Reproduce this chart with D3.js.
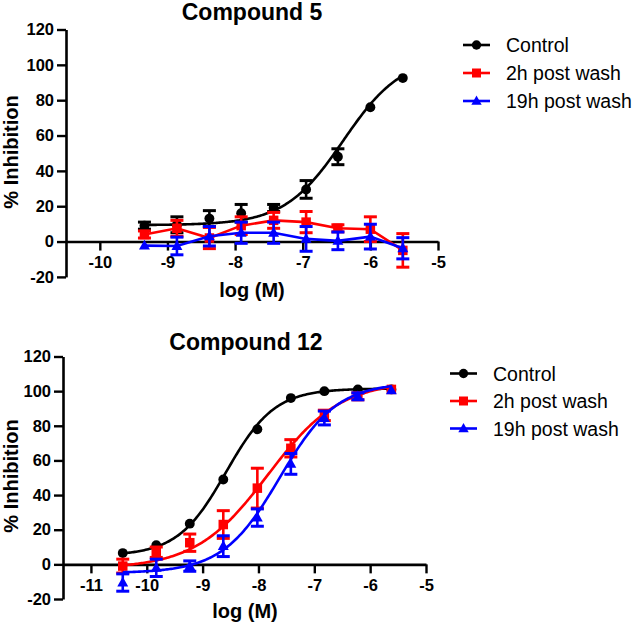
<!DOCTYPE html>
<html>
<head>
<meta charset="utf-8">
<script src="https://cdn.jsdelivr.net/npm/d3@7"></script>
<style>
  html, body { margin: 0; padding: 0; background: #fff; }
  svg { display: block; }
  text { font-family: "Liberation Sans", Arial, Helvetica, sans-serif; }
</style>
</head>
<body>
<svg id="chart" width="633" height="623"></svg>
<script>
// ---------- DATA ----------
const seriesNames = ["Control", "2h post wash", "19h post wash"];
const seriesColors = ["#000000", "#ff0000", "#0000ff"];
const seriesShapes = ["circle", "square", "triangle"];

// Compound 5 (top panel)
const c5Titles = ["Compound 5"];
const c5LogM = [-9.34, -8.86, -8.38, -7.91, -7.43, -6.95, -6.48, -6.0, -5.52];
const c5Control = [9, 9.5, 13, 16, 19, 29.5, 48, 76, 92.5];
const c5ControlErr = [2, 4.5, 4.5, 5, 2, 5, 4.5, 1, 1];
const c5Wash2h = [4, 7.5, 2, 9, 12, 11, 7.5, 7, -5];
const c5Wash2hErr = [2, 4.5, 6, 5, 4.5, 6, 2, 7, 9.5];
const c5Wash19h = [-2.3, -2.5, 3, 5, 5, 1.5, 0.4, 2.8, -3.8];
const c5Wash19hErr = [1, 5, 5.5, 6, 6, 7, 5, 7, 6];
// fitted curve for Control only: [bottom, top, logEC50, hill]
const c5ControlFit = [9.3, 105, -6.4, 1.0];
const c5XTicks = [-10, -9, -8, -7, -6, -5];

// Compound 12 (bottom panel)
const c12Titles = ["Compound 12"];
const c12LogM = [-10.43, -9.83, -9.23, -8.63, -8.02, -7.42, -6.82, -6.22, -5.62];
const c12Control = [6.5, 11, 23.5, 49, 78, 96, 100, 101, 101];
const c12ControlErr = [0.5, 0.5, 0.5, 0.5, 0.5, 0.5, 0.5, 0.5, 0.5];
const c12Wash2h = [-1, 7, 12.5, 23, 44, 67, 86, 97, 101];
const c12Wash2hErr = [4, 3, 5, 8, 11.5, 5, 3, 2, 1];
const c12Wash19h = [-10.5, -2, -1, 10.5, 27, 58, 84.5, 97, 100.5];
const c12Wash19hErr = [5, 5, 3, 6, 5, 6, 4, 2, 1];
const c12ControlFit = [5, 101.5, -8.58, 1.0];
const c12Wash2hFit = [-2.5, 106, -7.83, 0.67];
const c12Wash19hFit = [-5, 105, -7.62, 0.85];
const c12XTicks = [-11, -10, -9, -8, -7, -6, -5];

const yTicks = [-20, 0, 20, 40, 60, 80, 100, 120];
const xLabel = "log (M)";
const yLabel = "% Inhibition";

// ---------- DRAW ----------
const svg = d3.select("#chart");

function fourPL(p, x) {
  const [b, t, ec, h] = p;
  return b + (t - b) / (1 + Math.pow(10, (ec - x) * h));
}

function marker(g, shape, color, cx, cy, size) {
  if (shape === "circle") {
    g.append("circle").attr("cx", cx).attr("cy", cy).attr("r", size * 0.52).attr("fill", color);
  } else if (shape === "square") {
    g.append("rect").attr("x", cx - size * 0.5).attr("y", cy - size * 0.5)
      .attr("width", size).attr("height", size).attr("fill", color);
  } else {
    const s = size * 1.15;
    const h = s * 0.9;
    g.append("path")
      .attr("d", `M${cx},${cy - h * 0.6}L${cx + s / 2},${cy + h * 0.4}L${cx - s / 2},${cy + h * 0.4}Z`)
      .attr("fill", color);
  }
}

function drawPanel(cfg) {
  const x = d3.scaleLinear().domain(cfg.xDomain).range(cfg.xRange);
  const y = d3.scaleLinear().domain([-20, 120]).range(cfg.yRange);
  const g = svg.append("g");

  // y axis
  const ya = g.append("g").attr("transform", `translate(${cfg.xRange[0]},0)`)
    .call(d3.axisLeft(y).tickValues(yTicks).tickSize(9).tickSizeOuter(0).tickPadding(3));
  // x axis at y = 0
  const xa = g.append("g").attr("transform", `translate(0,${y(0)})`)
    .call(d3.axisBottom(x).tickValues(cfg.xTicks).tickSize(9).tickSizeOuter(0).tickPadding(6));
  [ya, xa].forEach(a => {
    a.select(".domain").attr("stroke", "#000").attr("stroke-width", 2.6);
    a.selectAll(".tick line").attr("stroke", "#000").attr("stroke-width", 2.4);
    a.selectAll(".tick text").attr("fill", "#000")
      .style("font-family", '"Liberation Sans", Arial, sans-serif')
      .style("font-size", "16.5px").style("font-weight", "bold")
      .text(d => String(d));
  });

  // titles and labels
  g.append("text").attr("x", cfg.titleX).attr("y", cfg.titleY).attr("text-anchor", "middle")
    .style("font-size", "23px").style("font-weight", "bold").text(cfg.title);
  g.append("text").attr("x", cfg.xLabelX).attr("y", cfg.xLabelY).attr("text-anchor", "middle")
    .style("font-size", "20px").style("font-weight", "bold").text(xLabel);
  g.append("text").attr("transform", `translate(${cfg.yLabelX},${cfg.yLabelY}) rotate(-90)`)
    .attr("text-anchor", "middle").style("font-size", "20px").style("font-weight", "bold").text(yLabel);

  // series
  cfg.series.forEach((s, i) => {
    const color = seriesColors[i];
    const sg = g.append("g");
    let pts;
    if (s.fit) {
      const lo = d3.min(cfg.logM), hi = d3.max(cfg.logM);
      pts = d3.range(0, 201).map(k => {
        const xv = lo + (hi - lo) * k / 200;
        return [x(xv), y(fourPL(s.fit, xv))];
      });
    } else if (s.connect) {
      pts = cfg.logM.map((xv, j) => [x(xv), y(s.values[j])]);
    }
    if (pts) {
      sg.append("path").attr("d", d3.line()(pts)).attr("fill", "none")
        .attr("stroke", color).attr("stroke-width", 2.6);
    }
    // error bars
    cfg.logM.forEach((xv, j) => {
      const e = s.err[j];
      if (e < 1.2) return;
      const cx = x(xv), y1 = y(s.values[j] + e), y2 = y(s.values[j] - e);
      sg.append("line").attr("x1", cx).attr("x2", cx).attr("y1", y1).attr("y2", y2)
        .attr("stroke", color).attr("stroke-width", 2.6);
      [y1, y2].forEach(yy => sg.append("line").attr("x1", cx - 6.5).attr("x2", cx + 6.5)
        .attr("y1", yy).attr("y2", yy).attr("stroke", color).attr("stroke-width", 3));
    });
    // markers
    cfg.logM.forEach((xv, j) => marker(sg, seriesShapes[i], color, x(xv), y(s.values[j]), 9.5));
  });

  // legend
  seriesNames.forEach((name, i) => {
    const ly = cfg.legendY + i * cfg.legendStep;
    const lg = g.append("g");
    lg.append("line").attr("x1", cfg.legendX).attr("x2", cfg.legendX + 27)
      .attr("y1", ly).attr("y2", ly).attr("stroke", seriesColors[i]).attr("stroke-width", 2.6);
    marker(lg, seriesShapes[i], seriesColors[i], cfg.legendX + 13.5, ly, 9);
    lg.append("text").attr("x", cfg.legendX + 43).attr("y", ly + 7)
      .style("font-size", "19.5px").attr("fill", "#000").text(name);
  });
}

drawPanel({
  title: c5Titles[0], titleX: 252, titleY: 20,
  xDomain: [-10.5, -5], xRange: [66, 438], yRange: [276.9, 29.5],
  xTicks: c5XTicks, logM: c5LogM,
  xLabelX: 252, xLabelY: 297, yLabelX: 18, yLabelY: 152,
  legendX: 463, legendY: 45, legendStep: 28,
  series: [
    { values: c5Control, err: c5ControlErr, fit: c5ControlFit },
    { values: c5Wash2h, err: c5Wash2hErr, connect: true },
    { values: c5Wash19h, err: c5Wash19hErr, connect: true }
  ]
});

drawPanel({
  title: c12Titles[0], titleX: 246, titleY: 350,
  xDomain: [-11.5, -5], xRange: [63, 426], yRange: [599, 356.5],
  xTicks: c12XTicks, logM: c12LogM,
  xLabelX: 245, xLabelY: 618, yLabelX: 18, yLabelY: 476,
  legendX: 450, legendY: 373.5, legendStep: 27.5,
  series: [
    { values: c12Control, err: c12ControlErr, fit: c12ControlFit },
    { values: c12Wash2h, err: c12Wash2hErr, fit: c12Wash2hFit },
    { values: c12Wash19h, err: c12Wash19hErr, fit: c12Wash19hFit }
  ]
});
</script>
</body>
</html>
